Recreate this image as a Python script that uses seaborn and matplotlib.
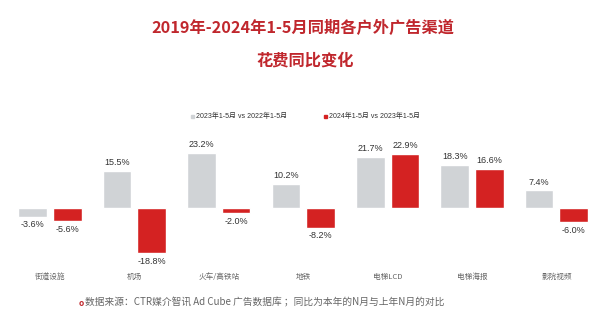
import matplotlib
matplotlib.use("Agg")
import matplotlib.pyplot as plt
import seaborn as sns
import pandas as pd
from matplotlib.patches import Rectangle

categories = ["街道设施", "机场", "火车/高铁站", "地铁", "电梯LCD", "电梯海报", "影院视频"]
series_names = ["2023年1-5月 vs 2022年1-5月", "2024年1-5月 vs 2023年1-5月"]
values_2023 = [-3.6, 15.5, 23.2, 10.2, 21.7, 18.3, 7.4]
values_2024 = [-5.6, -18.8, -2.0, -8.2, 22.9, 16.6, -6.0]
colors = ["#d0d3d6", "#d42222"]

df = pd.DataFrame({
    "cat": categories * 2,
    "series": [series_names[0]] * 7 + [series_names[1]] * 7,
    "val": values_2023 + values_2024,
})

sns.set_theme(style="white")
plt.rcParams["font.family"] = ["Noto Sans CJK SC", "DejaVu Sans"]
latin = ["Liberation Sans", "Noto Sans CJK SC", "DejaVu Sans"]

fig = plt.figure(figsize=(5.99, 3.27), dpi=100)
ax = fig.add_axes([0.0, 0.19, 1.0, 0.412])
sns.barplot(data=df, x="cat", y="val", hue="series", palette=colors,
            width=0.82, gap=0.17, ax=ax, legend=False, saturation=1)
ax.set_xlim(-0.592, 6.505)
ax.set_ylim(-23.9, 32.8)
for s in ax.spines.values():
    s.set_visible(False)
ax.set_yticks([])
ax.set_xlabel("")
ax.set_ylabel("")
ax.tick_params(axis="x", length=0, pad=6, labelsize=5.5, labelcolor="#666666")

for cont in ax.containers:
    for bar in cont:
        h = bar.get_height()
        x = bar.get_x() + bar.get_width() / 2
        if h >= 0:
            ax.text(x, h + 1.6, f"{h:.1f}%", ha="center", va="bottom",
                    fontsize=6.5, color="#333333", family=latin)
        else:
            ax.text(x, h - 1.6, f"{h:.1f}%", ha="center", va="top",
                    fontsize=6.5, color="#333333", family=latin)

# Legend
for px, col, name in [(193, colors[0], series_names[0]), (326, colors[1], series_names[1])]:
    fig.patches.append(Rectangle((px / 599 - 0.004, 1 - 118.5 / 327), 0.006, 0.011,
                                 transform=fig.transFigure, color=col))
    fig.text(px / 599 + 0.005, 1 - 116 / 327, name, fontsize=5.0, color="#333333",
             ha="left", va="center", family=latin)

fig.text(0.506, 1 - 28 / 327, "2019年-2024年1-5月同期各户外广告渠道", ha="center", va="center",
         fontsize=11.7, fontweight="bold", color="#c0272d")
fig.text(0.509, 1 - 60 / 327, "花费同比变化", ha="center", va="center",
         fontsize=11.7, fontweight="bold", color="#c0272d")

fig.text(81 / 599, 1 - 303 / 327, "o", ha="center", va="center", fontsize=6, color="#c0272d",
         fontweight="bold")
fig.text(85 / 599, 1 - 302 / 327, "数据来源：CTR媒介智讯 Ad Cube 广告数据库 ；同比为本年的N月与上年N月的对比",
         ha="left", va="center", fontsize=7, color="#666666")

fig.savefig("out.png", dpi=100)
